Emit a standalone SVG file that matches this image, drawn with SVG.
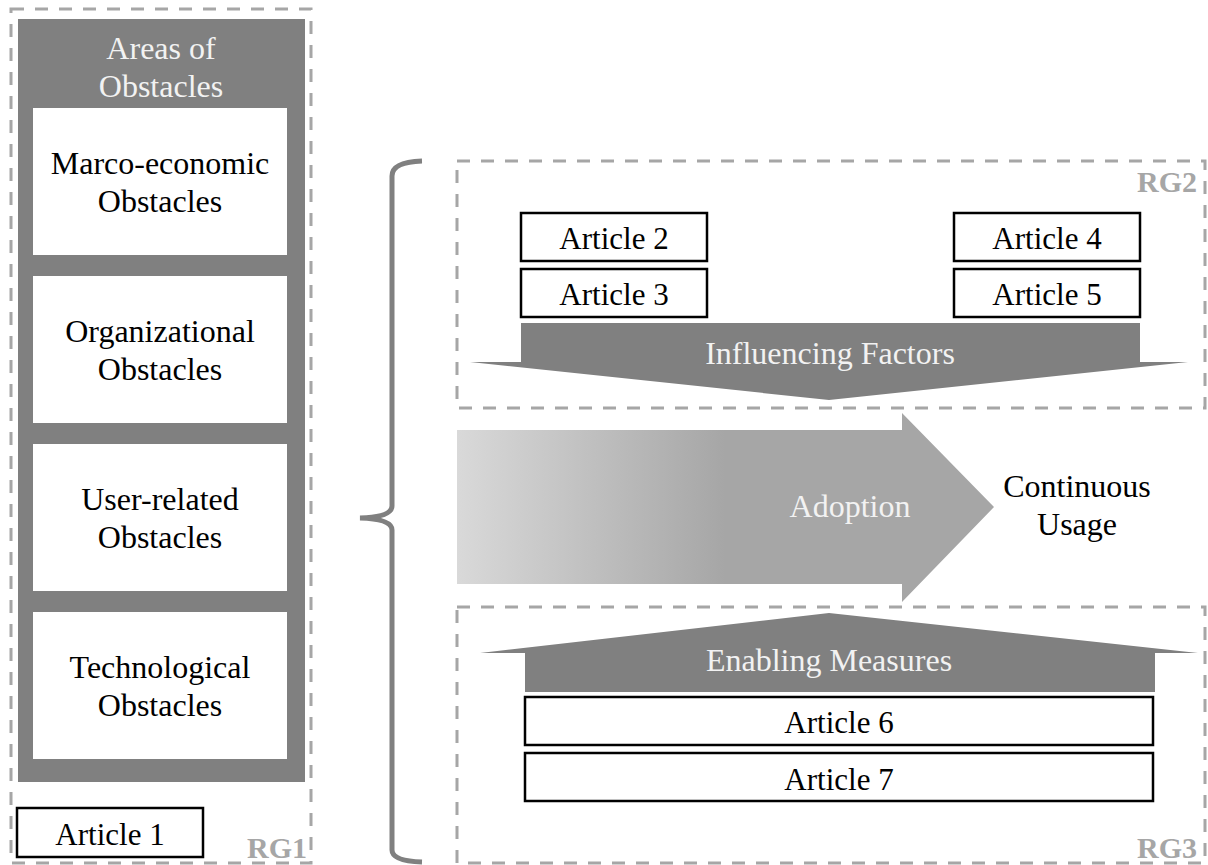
<svg xmlns="http://www.w3.org/2000/svg" width="1208" height="865" viewBox="0 0 1208 865">
  <defs>
    <linearGradient id="adoptGrad" gradientUnits="userSpaceOnUse" x1="457" y1="0" x2="725" y2="0">
      <stop offset="0" stop-color="#d9d9d9"/>
      <stop offset="1" stop-color="#a6a6a6"/>
    </linearGradient>
    <style>
      .grp { fill: none; stroke: #a6a6a6; stroke-width: 3; stroke-dasharray: 13 11; }
      .rg { font-family: "Liberation Serif", "Times New Roman", serif; font-weight: bold; font-size: 30px; fill: #a6a6a6; text-anchor: end; }
      .txt { font-family: "Liberation Serif", "Times New Roman", serif; font-size: 32px; fill: #000; text-anchor: middle; }
      .art { font-family: "Liberation Serif", "Times New Roman", serif; font-size: 31px; fill: #000; text-anchor: middle; }
      .wtxt { font-family: "Liberation Serif", "Times New Roman", serif; font-size: 32px; fill: #f2f2f2; text-anchor: middle; }
      .abox { fill: #fff; stroke: #000; stroke-width: 2.5; }
      .obox { fill: #fff; }
      .dark { fill: #808080; }
    </style>
  </defs>
  <rect width="1208" height="865" fill="#fff"/>

  <!-- research group frames -->
  <g id="rg1">
    <rect class="grp" x="11" y="9" width="300" height="854"/>
    <text class="rg" x="307" y="858">RG1</text>
  </g>
  <g id="rg2">
    <rect class="grp" x="457" y="161" width="748" height="247"/>
    <text class="rg" x="1197" y="192">RG2</text>
  </g>
  <g id="rg3">
    <rect class="grp" x="457" y="607" width="748" height="256"/>
    <text class="rg" x="1197" y="858">RG3</text>
  </g>

  <!-- areas of obstacles panel -->
  <g id="areas">
    <rect class="dark" x="18" y="19" width="287" height="763"/>
    <text class="wtxt" x="161" y="59">Areas of</text>
    <text class="wtxt" x="161" y="97">Obstacles</text>
  </g>
  <g id="macro">
    <rect class="obox" x="33" y="108" width="254" height="147"/>
    <text class="txt" x="160" y="174">Marco-economic</text>
    <text class="txt" x="160" y="212">Obstacles</text>
  </g>
  <g id="organizational">
    <rect class="obox" x="33" y="276" width="254" height="147"/>
    <text class="txt" x="160" y="342">Organizational</text>
    <text class="txt" x="160" y="380">Obstacles</text>
  </g>
  <g id="user">
    <rect class="obox" x="33" y="444" width="254" height="147"/>
    <text class="txt" x="160" y="510">User-related</text>
    <text class="txt" x="160" y="548">Obstacles</text>
  </g>
  <g id="technological">
    <rect class="obox" x="33" y="612" width="254" height="147"/>
    <text class="txt" x="160" y="678">Technological</text>
    <text class="txt" x="160" y="716">Obstacles</text>
  </g>
  <g id="article1">
    <rect class="abox" x="17" y="808" width="186" height="49"/>
    <text class="art" x="110" y="845">Article 1</text>
  </g>

  <!-- curly bracket -->
  <g id="connectors">
    <path d="M422,161 Q392,162 392,176 L392,506 Q392,517 360,518 Q392,519 392,530 L392,850 Q392,861 422,862" fill="none" stroke="#808080" stroke-width="5"/>
  </g>

  <!-- influencing factors (RG2) -->
  <g id="article2">
    <rect class="abox" x="521" y="213" width="186" height="48"/>
    <text class="art" x="614" y="249">Article 2</text>
  </g>
  <g id="article3">
    <rect class="abox" x="521" y="269" width="186" height="48"/>
    <text class="art" x="614" y="305">Article 3</text>
  </g>
  <g id="article4">
    <rect class="abox" x="954" y="213" width="186" height="48"/>
    <text class="art" x="1047" y="249">Article 4</text>
  </g>
  <g id="article5">
    <rect class="abox" x="954" y="269" width="186" height="48"/>
    <text class="art" x="1047" y="305">Article 5</text>
  </g>
  <g id="influencing">
    <path class="dark" d="M521,323 L1140,323 L1140,362 L1188,362 L829,400 L470,362 L521,362 Z"/>
    <text class="wtxt" x="830" y="364">Influencing Factors</text>
  </g>

  <!-- adoption arrow -->
  <g id="adoption">
    <path d="M457,430 L902,430 L902,413 L994,507 L902,602 L902,584 L457,584 Z" fill="url(#adoptGrad)"/>
    <text class="wtxt" x="850" y="517">Adoption</text>
  </g>
  <g id="usage">
    <text class="txt" x="1077" y="497">Continuous</text>
    <text class="txt" x="1077" y="535">Usage</text>
  </g>

  <!-- enabling measures (RG3) -->
  <g id="enabling">
    <path class="dark" d="M525,692 L1155,692 L1155,653 L1198,653 L829,613 L480,653 L525,653 Z"/>
    <text class="wtxt" x="829" y="671">Enabling Measures</text>
  </g>
  <g id="article6">
    <rect class="abox" x="525" y="697" width="628" height="48"/>
    <text class="art" x="839" y="733">Article 6</text>
  </g>
  <g id="article7">
    <rect class="abox" x="525" y="753" width="628" height="48"/>
    <text class="art" x="839" y="790">Article 7</text>
  </g>
</svg>
